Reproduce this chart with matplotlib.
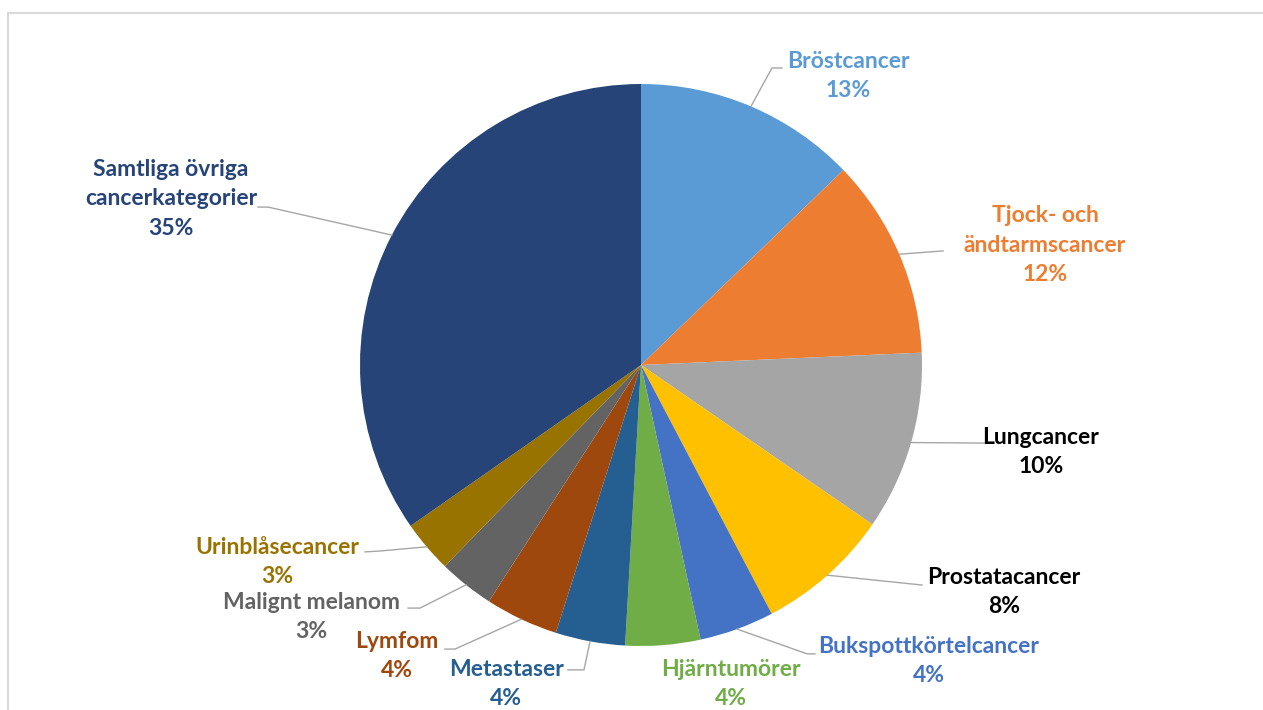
import numpy as np
import matplotlib
matplotlib.use('Agg')
from matplotlib import pyplot as plt
from matplotlib.patches import Rectangle

labels = ['Bröstcancer', 'Tjock- och\nändtarmscancer', 'Lungcancer', 'Prostatacancer',
          'Bukspottkörtelcancer', 'Hjärntumörer', 'Metastaser', 'Lymfom',
          'Malignt melanom', 'Urinblåsecancer', 'Samtliga övriga\ncancerkategorier']
shares = [12.8, 11.5, 10.3, 7.7, 4.3, 4.3, 4.0, 4.2, 3.2, 3.0, 34.7]
pct_labels = ['13%', '12%', '10%', '8%', '4%', '4%', '4%', '4%', '3%', '3%', '35%']

slice_colors = ['#5B9BD5', '#ED7D31', '#A5A5A5', '#FFC000', '#4472C4', '#70AD47',
                '#255E91', '#9E480E', '#636363', '#997300', '#264478']
text_colors = ['#5B9BD5', '#ED7D31', '#000000', '#000000', '#4472C4', '#70AD47',
               '#255E91', '#9E480E', '#636363', '#997300', '#264478']

# label layout in pie units (radius 1, centre 0,0)
text_pos = [(0.737, 1.028), (1.438, 0.427), (1.423, -0.310), (1.292, -0.808),
            (1.025, -1.053), (0.320, -1.135), (-0.480, -1.135), (-0.868, -1.036),
            (-1.174, -0.897), (-1.295, -0.701), (-1.673, 0.591)]
# leader lines: elbow and end point (None = no leader)
leader = [((0.466, 1.057), (0.502, 1.057)),
          ((1.075, 0.406), (1.075, 0.406)),
          ((1.249, -0.278), (1.249, -0.278)),
          ((1.0, -0.783), (1.0, -0.783)),
          ((0.591, -1.028), (0.619, -1.028)),
          None,
          ((-0.203, -1.085), (-0.260, -1.085)),
          ((-0.662, -1.011), (-0.698, -1.011)),
          ((-0.786, -0.865), (-0.829, -0.865)),
          ((-0.929, -0.662), (-0.982, -0.665)),
          ((-1.327, 0.562), (-1.363, 0.562))]

W, H = 1263, 710
cx, cy, r = 641, 365, 281
pitch = 29.5 / r  # line spacing of label text

fig = plt.figure(figsize=(W / 100, H / 100), dpi=100)
ax = fig.add_axes([0, 0, 1, 1])
wedges, _ = ax.pie(shares, colors=slice_colors, startangle=90, counterclock=False,
                   radius=1, center=(0, 0), wedgeprops=dict(linewidth=0))
ax.set_xlim(-cx / r, (W - cx) / r)
ax.set_ylim(-(H - cy) / r, cy / r)
ax.set_aspect('auto')
ax.axis('off')

# light frame
ax.add_patch(Rectangle(((8 - cx) / r, -(H + 20 - cy) / r), (W + 20) / r, (H + 7) / r,
                       fill=False, edgecolor='#d9d9d9', linewidth=1.5, clip_on=False))

for i, w in enumerate(wedges):
    if leader[i] is not None:
        mid = np.deg2rad((w.theta1 + w.theta2) / 2)
        x0, y0 = np.cos(mid), np.sin(mid)
        (ex, ey), (fx, fy) = leader[i]
        ax.plot([x0, ex, fx], [y0, ey, fy], color='#a6a6a6', linewidth=1)
    tx, ty = text_pos[i]
    lines = (labels[i] + '\n' + pct_labels[i]).split('\n')
    n = len(lines)
    for k, line in enumerate(lines):
        ax.text(tx, ty + ((n - 1) / 2 - k) * pitch, line, ha='center', va='center',
                fontsize=16.5, fontweight='bold', family='Lato', color=text_colors[i])

fig.savefig('out.png', dpi=100)
